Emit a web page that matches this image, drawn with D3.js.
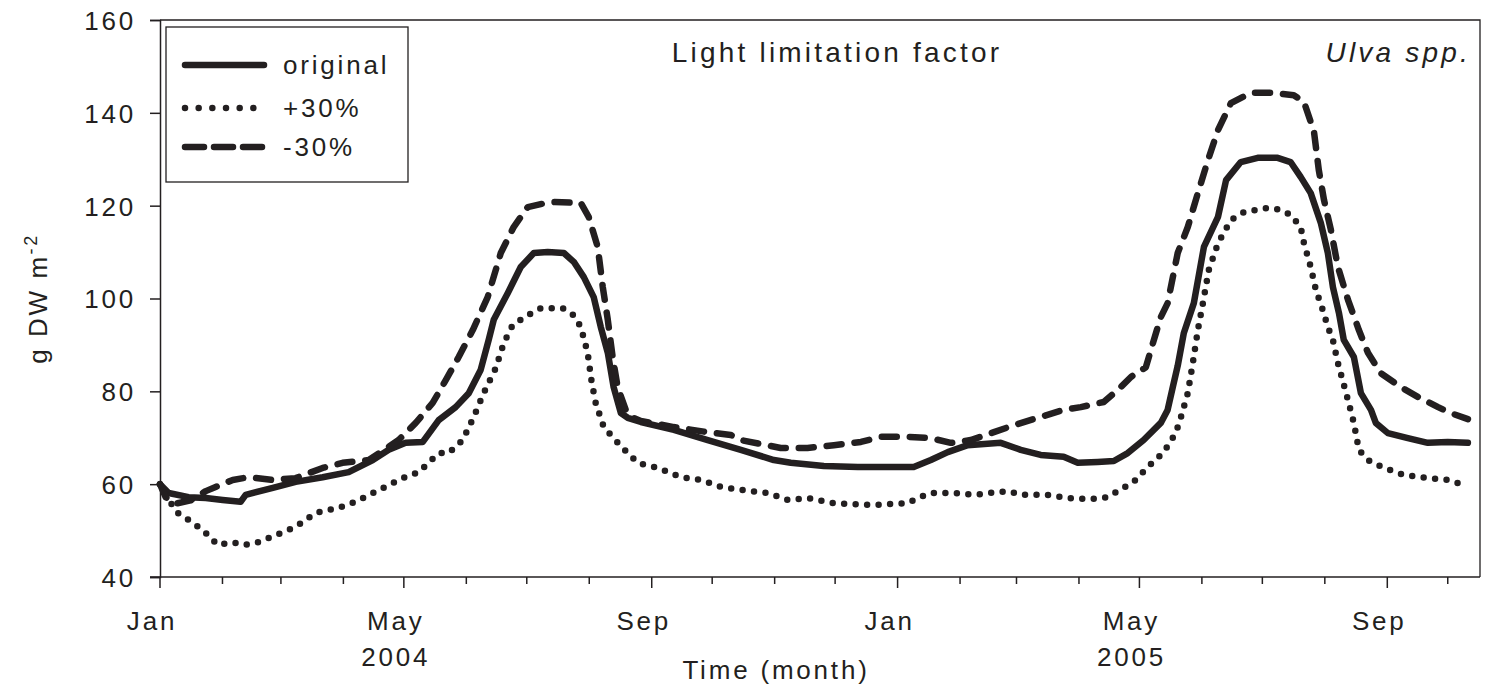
<!DOCTYPE html>
<html>
<head>
<meta charset="utf-8">
<script src="https://cdn.jsdelivr.net/npm/d3@7"></script>
<style>
  html, body { margin: 0; padding: 0; background: #fff; }
  svg { display: block; }
  text { font-family: "Liberation Sans", Arial, sans-serif; fill: #231f20; }
</style>
</head>
<body>
<svg id="chart" width="1496" height="691"></svg>
<script>
// Simulated Ulva spp. biomass (g DW m-2); first value = day of run counted from 1 Jan 2004
const originalSeries = [
  [0,60],[4.3,58.1],[14.2,57.2],[22.7,57.0],[31.1,56.6],[40,56.2],[42.5,57.7],[56,59.2],
  [67.3,60.5],[80.7,61.5],[93.6,62.6],[105.6,65.2],[113.5,67.4],[121.9,68.9],[130.4,69.1],
  [138.3,73.8],[146.7,76.6],[153.2,79.6],[159.1,84.6],[163.1,91.1],[165.6,95.4],[172.6,101.2],
  [179,106.8],[185.5,109.8],[192.4,110.0],[200.4,109.8],[205.3,107.9],[210.3,104.6],[215.2,100.3],
  [218.7,93.9],[222.2,88.3],[225.1,80.9],[228.7,75.3],[232.1,74.3],[238.6,73.4],[255,71.7],
  [271.8,69.5],[288.2,67.4],[304.6,65.2],[313,64.6],[329.4,63.9],[346.3,63.7],[362.7,63.7],
  [374,63.7],[382.5,65.2],[390.9,66.9],[400.8,68.4],[417.2,68.9],[427.1,67.4],[437,66.3],
  [448.4,65.9],[455.4,64.6],[465.3,64.8],[473.3,65.0],[480.2,66.7],[488.1,69.5],[496.6,73.2],
  [500,76.0],[502.6,81.0],[505,85.5],[508,92.5],[513,99.0],[518,111.1],[525,117.6],[529,125.5],
  [536.3,129.4],[544.7,130.3],[554.6,130.3],[561,129.4],[566,126.2],[571,122.7],[576,116.3],
  [579.5,109.8],[582,102.5],[585,96.9],[587.4,91.1],[592.4,87.4],[595.9,79.6],[600.9,76.0],
  [603.3,73.2],[609.3,71.0],[619.2,69.9],[629.1,68.9],[639,69.1],[649,68.9]
];

const plus30Series = [
  [0,60],[4.3,56.6],[8.8,53.8],[16.7,51.6],[22.7,49.5],[28.6,46.9],[36.1,47.5],[41,46.9],
  [47.5,47.3],[57.4,49.0],[67.3,50.8],[77.3,53.8],[88.7,54.9],[97.1,56.2],[108.5,58.7],
  [120.4,61.3],[128.4,62.6],[138.3,66.7],[143.3,66.7],[150.2,69.5],[155.7,74.5],[160.6,79.6],
  [166.6,85.0],[170.6,90.4],[175,94.3],[182.5,96.4],[189,97.9],[199.9,97.9],[205.3,96.4],
  [208.8,93.9],[212.2,88.3],[214.2,82.0],[216.2,77.5],[220.2,72.3],[225.1,69.9],[229.6,67.8],
  [237,64.6],[247,63.5],[258.4,61.5],[268.3,60.9],[278.3,59.4],[289.7,58.7],[301.6,58.1],
  [311.5,56.6],[321.5,57.0],[334.4,55.9],[352.7,55.5],[371,55.9],[376,57.0],[382.5,58.1],
  [393.9,58.1],[403.8,57.7],[415.7,58.3],[421.2,58.5],[427.1,57.7],[440.5,57.7],[450.4,57.0],
  [461.9,56.8],[470.3,57.2],[475.3,58.5],[483.2,60.5],[490.2,63.7],[498.1,66.9],[504,71.0],
  [506.5,74.3],[510,79.6],[512.5,86.1],[515,93.2],[517.5,99.0],[520.4,106.1],[525,111.9],
  [531.4,116.9],[537.9,118.6],[549.7,119.5],[556.2,119.1],[561,118.0],[566,115.4],[567.6,112.0],
  [571,106.8],[573.6,101.8],[577,97.5],[579.5,93.9],[582,91.1],[584.5,86.1],[589.5,78.1],
  [592.4,73.2],[594.9,67.4],[599.4,65.2],[607.3,63.5],[617.2,62.0],[629.1,61.3],[639,60.9],
  [647,59.8]
];

const minus30Series = [
  [0,60],[2.8,57.2],[7.8,55.8],[15.2,56.5],[22.7,58.5],[27.6,59.4],[36.1,60.9],[44,61.5],
  [56,60.9],[67.3,61.3],[80.7,63.5],[90.6,64.6],[103.6,65.2],[118.4,69.5],[126.9,73.2],
  [135.3,77.5],[141.8,82.4],[148.2,87.4],[155.2,93.2],[162.6,100.3],[169.1,109.8],[175.5,115.4],
  [182.5,119.7],[193.9,120.8],[208.8,120.6],[212.7,117.6],[217.2,111.1],[219.7,102.5],
  [222.2,95.4],[224.6,87.4],[227.1,80.9],[231.1,76.0],[233.6,74.5],[238.6,73.6],[255,72.3],
  [271.8,71.2],[283.2,70.6],[288.2,69.5],[308,67.8],[321.3,67.8],[334.4,68.4],[347.8,69.1],
  [357.7,70.2],[371,70.2],[382.5,69.9],[392.4,68.9],[402.3,69.5],[413.8,71.2],[423.7,72.7],
  [435.6,74.3],[448.4,76.0],[456.9,76.6],[468.3,77.7],[475.3,80.3],[481.8,83.1],[489.2,85.2],
  [492.7,90.4],[496.6,96.0],[500,99.0],[505,109.8],[510,115.4],[515,122.7],[520,129.8],
  [525,136.3],[531.4,142.1],[541.4,144.3],[551.3,144.3],[562.6,143.8],[567.6,142.4],
  [572.6,136.0],[575,127.7],[577.6,121.2],[581,114.8],[584.5,106.8],[589.5,99.7],[594.9,93.2],
  [599.4,88.3],[605.8,83.9],[615.8,80.9],[624.2,78.8],[634.2,76.6],[640.6,75.3],[649,74.0]
];

const yTicks = [40, 60, 80, 100, 120, 140, 160];
const monthLabels = ["Jan", "May", "Sep", "Jan", "May", "Sep"];
const yearLabels = ["2004", "2005"];
const legendLabels = ["original", "+30%", "-30%"];

const INK = "#231f20";
const FS = 26, LS = 2.8;          // axis / legend text
const TFS = 28, TLS = 3.2;        // panel titles
const startDate = new Date(2004, 0, 1);
const dayToDate = d => new Date(startDate.getTime() + d * 864e5);

const svg = d3.select("#chart");
const margin = { left: 160, right: 16, top: 20, bottom: 114 };
const W = 1496, H = 691;

const x = d3.scaleTime()
  .domain([startDate, new Date(2005, 9, 17)])
  .range([margin.left, W - margin.right]);
const y = d3.scaleLinear()
  .domain([40, 160])
  .range([H - margin.bottom, margin.top]);

const x0 = x.range()[0], x1 = x.range()[1];
const yb = y(40), yt = y(160);

// frame: top and right edges
svg.append("path")
  .attr("d", `M${x0},${yt}H${x1}V${yb}`)
  .attr("fill", "none").attr("stroke", INK).attr("stroke-width", 1.3);

// y axis
const yAxis = d3.axisLeft(y).tickValues(yTicks).tickSize(10).tickPadding(14);
const gy = svg.append("g").attr("transform", `translate(${x0},0)`).call(yAxis);
gy.select(".domain").attr("stroke", INK).attr("stroke-width", 1.5);
gy.selectAll(".tick line").attr("stroke", INK).attr("stroke-width", 1.5);
gy.selectAll(".tick text").attr("font-size", FS).attr("letter-spacing", LS)
  .style("font-family", "'Liberation Sans', Arial, sans-serif").attr("fill", INK).attr("dy", "0.36em");

// x axis: monthly ticks, longer at Jan / May / Sep
const months = d3.timeMonth.range(startDate, x.domain()[1]);
const gx = svg.append("g").attr("transform", `translate(0,${yb})`);
gx.append("line").attr("x1", x0 - 10).attr("x2", x1).attr("stroke", INK).attr("stroke-width", 1.5);
gx.selectAll("line.tk").data(months).join("line").attr("class", "tk")
  .attr("x1", d => x(d)).attr("x2", d => x(d))
  .attr("y1", 0).attr("y2", d => d.getMonth() % 4 === 0 ? 11 : 7)
  .attr("stroke", INK).attr("stroke-width", 1.5);
const labelled = months.filter(d => d.getMonth() % 4 === 0);
gx.selectAll("text.ml").data(labelled).join("text").attr("class", "ml")
  .attr("x", d => x(d) - 8).attr("y", 53)
  .attr("text-anchor", "middle").attr("font-size", FS).attr("letter-spacing", LS)
  .text((d, i) => monthLabels[i]);
const mays = labelled.filter(d => d.getMonth() === 4);
gx.selectAll("text.yr").data(mays).join("text").attr("class", "yr")
  .attr("x", d => x(d) - 8).attr("y", 89)
  .attr("text-anchor", "middle").attr("font-size", FS).attr("letter-spacing", LS)
  .text((d, i) => yearLabels[i]);

// axis titles
svg.append("text").attr("x", 776).attr("y", 679).attr("text-anchor", "middle")
  .attr("font-size", FS).attr("letter-spacing", LS).text("Time (month)");
const yl = svg.append("text").attr("transform", `translate(47,${(yt + yb) / 2}) rotate(-90)`)
  .attr("text-anchor", "middle").attr("font-size", FS).attr("letter-spacing", 2.6);
yl.append("tspan").text("g DW m");
yl.append("tspan").attr("dy", -10).attr("font-size", 18).text("-2");

// panel titles
svg.append("text").attr("x", 837).attr("y", 62).attr("text-anchor", "middle")
  .attr("font-size", TFS).attr("letter-spacing", TLS).text("Light limitation factor");
svg.append("text").attr("x", 1471).attr("y", 62).attr("text-anchor", "end")
  .attr("font-size", TFS).attr("font-style", "italic").attr("letter-spacing", TLS).text("Ulva spp.");

// series
const styles = [
  { data: originalSeries, dash: null, legendDash: null, w: 6.5 },
  { data: plus30Series, dash: "0,11.5", legendDash: "0,13.67", w: 6.5 },
  { data: minus30Series, dash: "15,13", legendDash: "19,10", w: 6.5 }
];
const line = d3.line().x(d => x(dayToDate(d[0]))).y(d => y(d[1])).curve(d3.curveLinear);
svg.append("g").selectAll("path").data(styles).join("path")
  .attr("d", s => line(s.data))
  .attr("fill", "none").attr("stroke", INK)
  .attr("stroke-width", s => s.w)
  .attr("stroke-linecap", "round").attr("stroke-linejoin", "round")
  .attr("stroke-dasharray", s => s.dash);

// legend
const lg = svg.append("g");
lg.append("rect").attr("x", 166).attr("y", 27).attr("width", 242).attr("height", 155)
  .attr("fill", "#fff").attr("stroke", INK).attr("stroke-width", 1.3);
const rowsY = [65, 108, 147];
styles.forEach((s, i) => {
  lg.append("line").attr("x1", 185).attr("x2", 264).attr("y1", rowsY[i]).attr("y2", rowsY[i])
    .attr("stroke", INK).attr("stroke-width", s.w)
    .attr("stroke-linecap", "round")
    .attr("stroke-dasharray", s.legendDash);
  lg.append("text").attr("x", 283).attr("y", rowsY[i] + 9)
    .attr("font-size", FS).attr("letter-spacing", LS).text(legendLabels[i]);
});
</script>
</body>
</html>
